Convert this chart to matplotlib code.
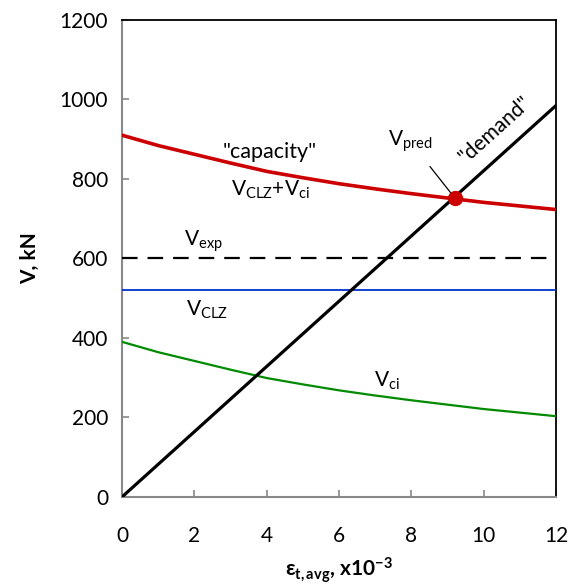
import matplotlib.pyplot as plt
import numpy as np

plt.rcParams['font.family'] = ['Lato', 'DejaVu Sans']
plt.rcParams['mathtext.fontset'] = 'custom'
plt.rcParams['mathtext.rm'] = 'Lato'
plt.rcParams['mathtext.it'] = 'Lato:italic'
plt.rcParams['mathtext.bf'] = 'Lato:bold'

# strain, x10^-3
eps = [0, 1, 2, 3, 4, 5, 6, 7, 8, 9, 10, 11, 12]
# concrete contribution V_ci, kN
v_ci = [390, 364, 342, 320, 299, 283, 268, 255, 243, 232, 221, 212, 203]
v_clz = 520
v_exp = 600
demand_x = [0, 12]
demand_y = [0, 985]
v_pred = (9.2, 752)

capacity = [v_clz + v for v in v_ci]

fig = plt.figure(figsize=(5.68, 5.88), dpi=100)
ax = fig.add_axes([0.215, 0.155, 0.764, 0.811])

ax.plot(eps, capacity, color='#cc0000', lw=2.6, zorder=4)
ax.plot(eps, v_ci, color='#008a00', lw=1.6, zorder=3)
ax.axhline(v_clz, color='#0033cc', lw=1.3, zorder=3)
ax.axhline(v_exp, color='black', lw=1.6, dashes=(7, 4.5), zorder=3)
ax.plot(demand_x, demand_y, color='black', lw=2.3, zorder=5)
ax.plot(*v_pred, 'o', color='#cc0000', ms=10, zorder=6)

fs = 15
ax.annotate(r'$\mathregular{V_{pred}}$', xy=v_pred, xytext=(7.96, 895),
            ha='center', va='center', fontsize=fs,
            arrowprops=dict(arrowstyle='-', color='black', lw=0.9,
                            shrinkA=9, shrinkB=2))
ax.text(4.09, 868, '"capacity"', ha='center', va='center', fontsize=15.5)
ax.text(4.1, 772, r'$\mathregular{V_{CLZ}{+}V_{ci}}$', ha='center', va='center', fontsize=fs)
ax.text(2.24, 642, r'$\mathregular{V_{exp}}$', ha='center', va='center', fontsize=fs)
ax.text(2.35, 470, r'$\mathregular{V_{CLZ}}$', ha='center', va='center', fontsize=fs)
ax.text(7.33, 292, r'$\mathregular{V_{ci}}$', ha='center', va='center', fontsize=fs)
ax.text(10.3, 925, '"demand"', ha='center', va='center', fontsize=fs, rotation=42)

ax.set_xlim(0, 12)
ax.set_ylim(0, 1200)
ax.set_xticks(np.arange(0, 13, 2))
ax.set_yticks(np.arange(0, 1201, 200))
ax.tick_params(direction='in', color='#888888', length=5, width=1.2,
               labelsize=fs, pad=10)
ax.tick_params(axis='x', pad=21)

for s in ['left', 'bottom']:
    ax.spines[s].set_color('#888888')
    ax.spines[s].set_linewidth(1.5)
for s in ['top', 'right']:
    ax.spines[s].set_color('black')
    ax.spines[s].set_linewidth(1.3)

ax.set_ylabel('V, kN', fontsize=fs, fontweight='bold', labelpad=14)
ax.set_xlabel(r'$\mathbf{\varepsilon_{t,avg}}$, x10$^{\mathbf{-3}}$',
              fontsize=fs, fontweight='bold', labelpad=7)

fig.savefig('out.png', dpi=100)
